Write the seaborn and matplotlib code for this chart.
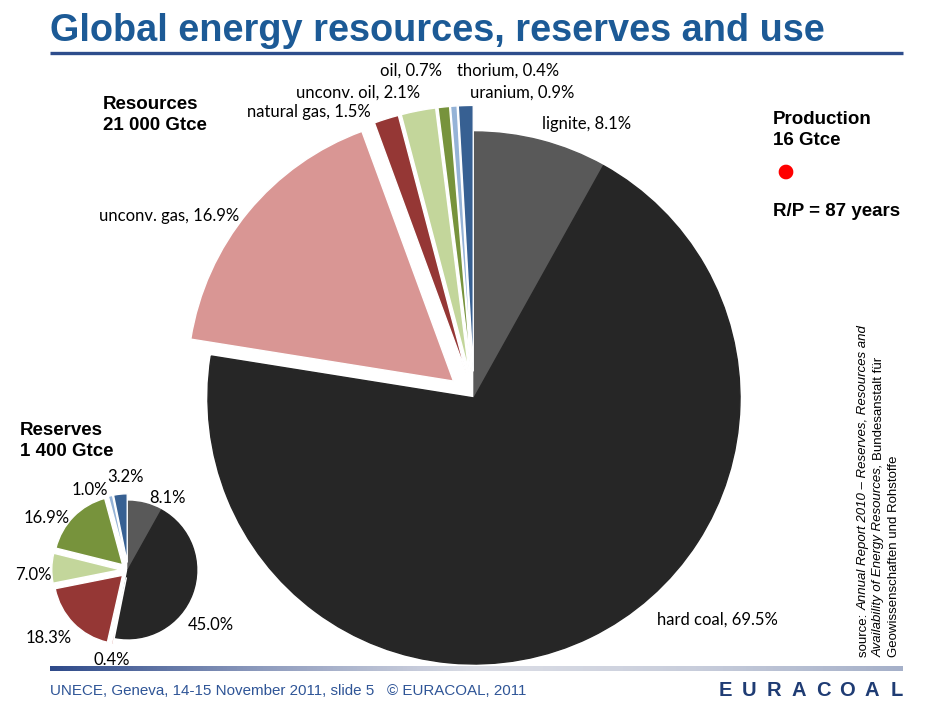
import numpy as np
import matplotlib.pyplot as plt
import seaborn as sns
from matplotlib.colors import LinearSegmentedColormap

## Data (shares in %, totals in Gtce)
sources = ['lignite', 'hard coal', 'unconv. gas', 'natural gas',
           'unconv. oil', 'oil', 'thorium', 'uranium']
resources_pct = [8.1, 69.5, 16.9, 1.5, 2.1, 0.7, 0.4, 0.9]
reserves_pct = [8.1, 45.0, 0.4, 18.3, 7.0, 16.9, 1.0, 3.2]
resources_gtce = 21000
reserves_gtce = 1400
production_gtce = 16
rp_years = 87

colors = ['#595959', '#262626', '#D99694', '#953735',
          '#C3D69B', '#77933C', '#95B3D7', '#376092']
exploded = [0, 0, 1, 1, 1, 1, 1, 1]

sns.set_theme(style='white')
plt.rcParams['font.family'] = ['Lato', 'DejaVu Sans']

W, H = 947, 711
fig = plt.figure(figsize=(W / 100, H / 100), dpi=100)
ax = fig.add_axes([0, 0, 1, 1])


def Y(y):
    # top-down pixel -> axes data y
    return H - y


# circle areas are to scale: radius ~ sqrt(Gtce)
r_big = 266
r_small = r_big * np.sqrt(reserves_gtce / resources_gtce)
r_dot = r_big * np.sqrt(production_gtce / resources_gtce)

wp = dict(edgecolor='white', linewidth=1.0)
w_big, _ = ax.pie(resources_pct, colors=colors, startangle=90, counterclock=False,
                  center=(474, Y(398)), radius=r_big,
                  explode=[e * 0.1 * r_big for e in exploded], wedgeprops=wp)
w_small, _ = ax.pie(reserves_pct, colors=colors, startangle=90, counterclock=False,
                    center=(128, Y(570)), radius=r_small,
                    explode=[e * 0.11 * r_small for e in exploded], wedgeprops=wp)
# no white seam between the two coal slices
for w, e in zip(list(w_big) + list(w_small), exploded + exploded):
    if not e:
        w.set_edgecolor(w.get_facecolor())
ax.pie([1], colors=['#FF0000'], center=(786, Y(172)), radius=r_dot,
       wedgeprops=dict(linewidth=0))

ax.set_xlim(0, W)
ax.set_ylim(0, H)

# labels, big pie (left x, centre y)
big_pos = [(542, 124), (657, 620), (99, 216), (247, 112),
           (296, 93), (380, 71), (457, 71), (470, 93)]
for name, v, (x, y) in zip(sources, resources_pct, big_pos):
    ax.text(x, Y(y), f'{name}, {v:.1f}%', fontsize=12, ha='left',
            va='center', color='black')

# labels, small pie (centre x, centre y)
small_pos = [(168, 498), (211, 625), (112, 660), (49, 638),
             (33, 575), (47, 518), (90, 490), (126, 477)]
for v, (x, y) in zip(reserves_pct, small_pos):
    ax.text(x, Y(y), f'{v:.1f}%', fontsize=12, ha='center', va='center',
            color='black')

bold = dict(family=['Liberation Sans', 'DejaVu Sans'], fontsize=13.5,
            fontweight='bold', color='black', ha='left', va='center',
            linespacing=1.35)
ax.text(103, Y(115), f'Resources\n{resources_gtce:,} Gtce'.replace(',', ' '), **bold)
ax.text(20, Y(441), f'Reserves\n{reserves_gtce:,} Gtce'.replace(',', ' '), **bold)
ax.text(773, Y(130), f'Production\n{production_gtce} Gtce', **bold)
ax.text(773, Y(211), f'R/P = {rp_years} years', **bold)

# title
ax.text(50, Y(31), 'Global energy resources, reserves and use',
        family=['Liberation Sans', 'DejaVu Sans'], fontsize=27.3,
        fontweight='bold', color='#1C5A96', ha='left', va='center')
ax.plot([50, 903], [Y(53), Y(53)], color='#2E4D8C', lw=2.4,
        solid_capstyle='butt')

# footer bar with gradient
cmap = LinearSegmentedColormap.from_list(
    'bar', ['#2E4A8A', '#8F9CBE', '#DCDEE6', '#C9CEDC', '#A5B0C9'])
ax.imshow(np.linspace(0, 1, 256)[None, :], cmap=cmap, aspect='auto',
          extent=[50, 903, Y(671), Y(666)])
ax.text(50, Y(691), 'UNECE, Geneva, 14-15 November 2011, slide 5   \u00a9 EURACOAL, 2011',
        family=['Liberation Sans Narrow', 'Liberation Sans', 'DejaVu Sans'],
        fontsize=10.9, color='#2F5597', ha='left', va='center')
for i, ch in enumerate('EURACOAL'):
    ax.text(725 + i * 24.5, Y(691), ch, family=['Liberation Sans', 'DejaVu Sans'],
            fontsize=14.5, fontweight='bold', color='#1F3C74',
            ha='center', va='center')

# rotated source note, mixed italic / upright pieces
ax.set_xlim(0, W)
ax.set_ylim(0, H)
ax.set_aspect('auto')
renderer = fig.canvas.get_renderer()
note_lines = [
    (864, [('source: ', 'normal'),
           ('Annual Report 2010 \u2013 Reserves, Resources and', 'italic')]),
    (879, [('Availability of Energy Resources, ', 'italic'),
           ('Bundesanstalt f\u00fcr', 'normal')]),
    (894, [('Geowissenschaften und Rohstoffe', 'normal')]),
]
for x, pieces in note_lines:
    y0 = Y(657)
    for txt, style in pieces:
        t = ax.text(x, y0, txt, rotation=90, ha='center', va='bottom',
                    family=['Liberation Sans', 'DejaVu Sans'], fontsize=9.5,
                    style=style, color='black')
        y0 = ax.transData.inverted().transform(
            (0, t.get_window_extent(renderer).y1))[1]

ax.axis('off')
fig.savefig('out.png', dpi=100, facecolor='white')
